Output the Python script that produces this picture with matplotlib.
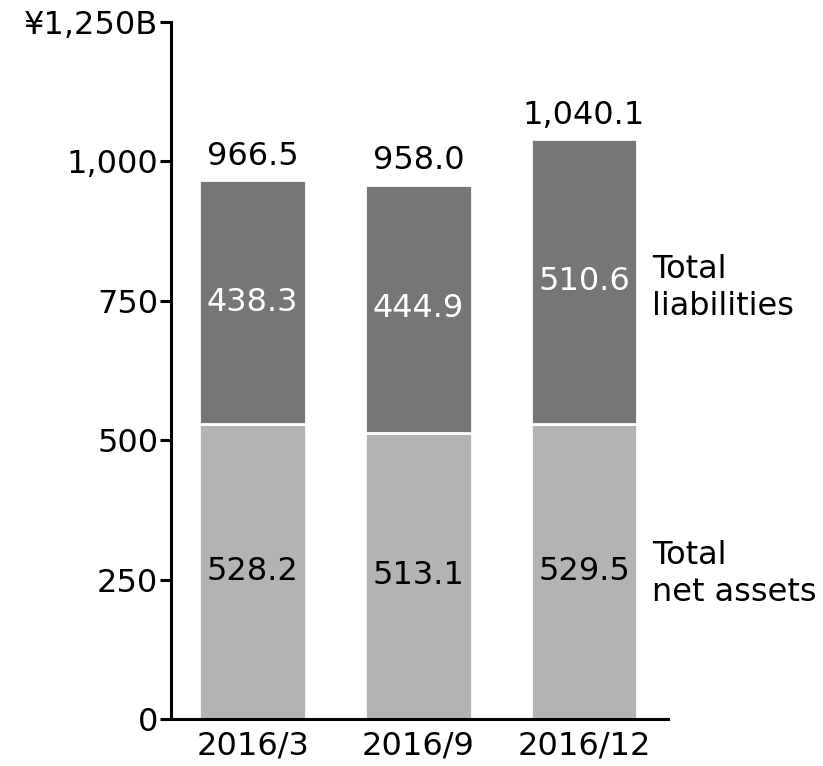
import matplotlib.pyplot as plt
import numpy as np

plt.rcParams.update({"font.family": "DejaVu Sans"})

periods = ['2016/3', '2016/9', '2016/12']
net_assets = [528.2, 513.1, 529.5]
liabilities = [438.3, 444.9, 510.6]
totals = ['966.5', '958.0', '1,040.1']
yticks = [0, 250, 500, 750, 1000, 1250]
ytick_labels = ['0', '250', '500', '750', '1,000', '¥1,250B']

fig = plt.figure(figsize=(8.23, 7.66), dpi=100)
ax = fig.add_axes([0.2074, 0.0614, 0.6043, 0.91])

x = np.arange(len(periods))
w = 0.644
ax.bar(x, net_assets, width=w, color='#b3b3b3', edgecolor='white', linewidth=2)
top = ax.bar(x, liabilities, width=w, bottom=net_assets, color='#767676',
             edgecolor='white', linewidth=2)

for i in range(len(periods)):
    ax.text(x[i], net_assets[i] / 2, f'{net_assets[i]:.1f}', ha='center', va='center',
            fontsize=23, color='black')
    ax.text(x[i], net_assets[i] + liabilities[i] / 2, f'{liabilities[i]:.1f}',
            ha='center', va='center', fontsize=23, color='white')
    ax.annotate(totals[i], (x[i], net_assets[i] + liabilities[i]), xytext=(0, 11),
                textcoords='offset points', ha='center', va='baseline', fontsize=23)

ax.text(2.409, 773, 'Total\nliabilities', ha='left', va='center', fontsize=23,
        linespacing=1.22, clip_on=False)
ax.text(2.409, 260, 'Total\nnet assets', ha='left', va='center', fontsize=23,
        linespacing=1.22, clip_on=False)

ax.set_xlim(-0.495, 2.507)
ax.set_ylim(0, 1250)
ax.set_yticks(yticks)
ax.set_yticklabels(ytick_labels, fontsize=23)
ax.set_xticks(x)
ax.set_xticklabels(periods, fontsize=23)
ax.tick_params(axis='y', length=8, width=2.2, pad=1)
ax.tick_params(axis='x', length=0, pad=8)
for s in ['top', 'right']:
    ax.spines[s].set_visible(False)
for s in ['left', 'bottom']:
    ax.spines[s].set_linewidth(2.2)

plt.savefig('out.png', dpi=100)
